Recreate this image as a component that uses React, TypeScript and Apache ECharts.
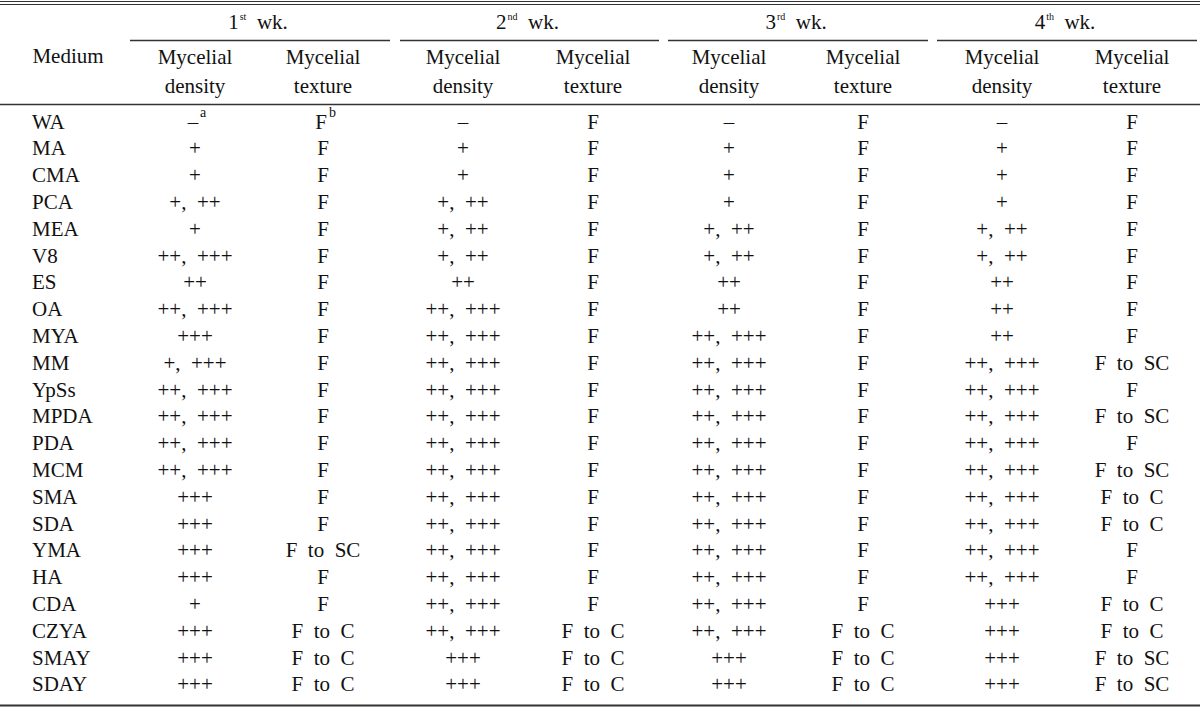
import React, { useEffect, useRef } from "react";
import * as echarts from "echarts";

const media = ["WA","MA","CMA","PCA","MEA","V8","ES","OA","MYA","MM","YpSs","MPDA","PDA","MCM","SMA","SDA","YMA","HA","CDA","CZYA","SMAY","SDAY"];
const weekNums = ["1","2","3","4"];
const weekSups = ["st","nd","rd","th"];
const subHeaders = [["Mycelial","density"],["Mycelial","texture"]];

const density1 = ["–","+","+","+, ++","+","++, +++","++","++, +++","+++","+, +++","++, +++","++, +++","++, +++","++, +++","+++","+++","+++","+++","+","+++","+++","+++"];
const texture1 = ["F","F","F","F","F","F","F","F","F","F","F","F","F","F","F","F","F to SC","F","F","F to C","F to C","F to C"];
const density2 = ["–","+","+","+, ++","+, ++","+, ++","++","++, +++","++, +++","++, +++","++, +++","++, +++","++, +++","++, +++","++, +++","++, +++","++, +++","++, +++","++, +++","++, +++","+++","+++"];
const texture2 = ["F","F","F","F","F","F","F","F","F","F","F","F","F","F","F","F","F","F","F","F to C","F to C","F to C"];
const density3 = ["–","+","+","+","+, ++","+, ++","++","++","++, +++","++, +++","++, +++","++, +++","++, +++","++, +++","++, +++","++, +++","++, +++","++, +++","++, +++","++, +++","+++","+++"];
const texture3 = ["F","F","F","F","F","F","F","F","F","F","F","F","F","F","F","F","F","F","F","F to C","F to C","F to C"];
const density4 = ["–","+","+","+","+, ++","+, ++","++","++","++","++, +++","++, +++","++, +++","++, +++","++, +++","++, +++","++, +++","++, +++","++, +++","+++","+++","+++","+++"];
const texture4 = ["F","F","F","F","F","F","F","F","F","F to SC","F","F to SC","F","F to SC","F to C","F to C","F","F","F to C","F to C","F to SC","F to SC"];
const footMarks = ["a", "b"];

const FONT = "'Liberation Serif', 'Times New Roman', serif";
const INK = "#111";
const LINE = "#333";

export default function App() {
  const ref = useRef<HTMLDivElement>(null);
  useEffect(() => {
    document.body.style.margin = "0";
    const chart = echarts.init(ref.current!, null, { renderer: "svg" });
    const columns = [density1, texture1, density2, texture2, density3, texture3, density4, texture4];
    const colX = [195, 323, 463, 593, 729, 863, 1002, 1132];
    const weekSpans = [[130, 390], [400, 659], [668, 928], [937, 1197]];
    const rowY0 = 121.5;
    const rowStep = 26.8;
    const FS = 21;
    const sp = (s: string) => s.replace(/ /g, "  ");
    const els: any[] = [];
    const hline = (x1: number, x2: number, y: number, w: number) =>
      els.push({ type: "line", shape: { x1, y1: y, x2, y2: y }, style: { stroke: LINE, lineWidth: w } });
    const txt = (text: string, x: number, y: number, align = "center", size = FS, va = "middle") =>
      els.push({ type: "text", x, y, style: { text, fontFamily: FONT, fontSize: size, fill: INK, align, verticalAlign: va } });

    hline(0, 1200, 1.5, 1.2);
    hline(0, 1200, 4.5, 1.2);
    hline(0, 1200, 104.5, 1.6);
    hline(0, 1200, 705.5, 2);

    txt("Medium", 68, 55.5);
    weekSpans.forEach(([a, b], i) => {
      hline(a, b, 40.5, 1.5);
      els.push({
        type: "text", x: (a + b) / 2 - 2, y: 22,
        style: {
          text: `{n|${weekNums[i]}}{s|${weekSups[i]}}{n|  wk.}`,
          align: "center", verticalAlign: "middle",
          rich: {
            n: { fontFamily: FONT, fontSize: FS, fill: INK, lineHeight: 22 },
            s: { fontFamily: FONT, fontSize: 10, fill: INK, verticalAlign: "top", lineHeight: 10, padding: [0, 0, 12, 1] },
          },
        },
      });
    });
    colX.forEach((x, c) => {
      const [l1, l2] = subHeaders[c % 2];
      txt(l1, x, 57);
      txt(l2, x, 86);
    });

    media.forEach((m, r) => {
      const y = rowY0 + r * rowStep;
      txt(m, 32, y, "left");
      columns.forEach((col, c) => {
        const v = col[r];
        if (r === 0 && c < 2) {
          txt(v, colX[c] - 2, y);
          txt(footMarks[c], colX[c] + (c === 0 ? 5 : 6), 105.5, "left", 14, "top");
        } else {
          txt(sp(v), colX[c], y);
        }
      });
    });

    chart.setOption({ animation: false, graphic: { elements: els } });
    return () => chart.dispose();
  }, []);
  return <div ref={ref} style={{ width: 1200, height: 707 }} />;
}
